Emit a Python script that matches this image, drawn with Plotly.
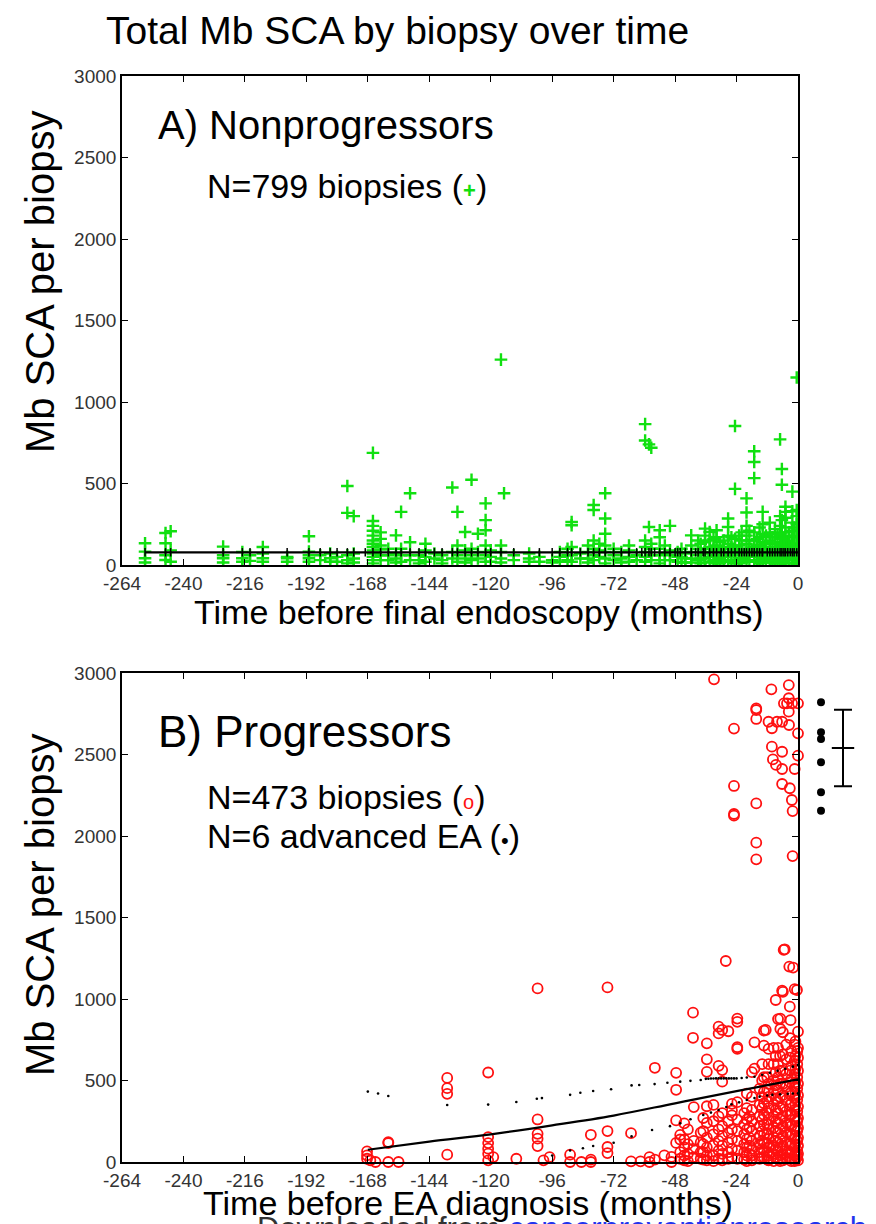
import plotly.graph_objects as go

# ---------------- data ----------------
month_ticks = [-264, -240, -216, -192, -168, -144, -120, -96, -72, -48, -24, 0]
month_tick_labels = ["-264", "-240", "-216", "-192", "-168", "-144", "-120",
                     "-96", "-72", "-48", "-24", "0"]
sca_ticks = [0, 500, 1000, 1500, 2000, 2500, 3000]
sca_tick_labels = ["0", "500", "1000", "1500", "2000", "2500", "3000"]

# Panel A: nonprogressors, biopsy months and Mb SCA values at each visit month
nonprog_visit_months = [
    -255, -247, -245, -224.5, -217, -214, -209, -199.5, -191, -186.6, -182.7, -180,
    -176, -173.5, -166, -163, -160, -157, -155, -151.5, -148, -145.5, -142, -139,
    -135, -133, -130, -127.5, -125, -122, -120, -116, -114.8, -111, -105, -101,
    -96, -93, -90, -88.4, -85, -82, -79.8, -77.6, -75.3, -72, -69, -66, -63,
    -59.7, -58.2, -57.3, -54, -50, -47, -44, -41.7, -39, -36.3, -34.5, -31.8,
    -29, -27.3, -24.6, -22, -20.1, -17.1, -15, -13.8, -11, -9, -7, -6.3, -4.9,
    -2.2, -0.5,
    -52, -45.5, -38, -33, -30.5, -26, -23, -19, -16, -12.5, -10, -8, -5.5, -3.5, -1.5,
]
nonprog_visit_sca = [
    [133, 82, 41, 15], [196, 133, 60, 31], [207, 90, 20], [113, 60, 41, 15],
    [80, 41, 20], [60, 25], [110, 70, 41, 20], [50, 41, 20], [176, 82, 60, 41, 20],
    [60, 30], [70, 41, 20], [50, 20],
    [485, 320, 60, 30, 10], [300, 70, 40, 15],
    [688, 270, 240, 210, 180, 150, 130, 110, 90, 70, 50, 30, 10],
    [200, 160, 120, 95, 60, 30], [100, 60, 30], [182, 70, 40, 15], [326, 100, 60, 20],
    [440, 140, 60, 30], [60, 30, 10], [130, 90, 50, 20], [70, 40], [60, 30, 10],
    [475, 80, 40], [326, 120, 60, 20], [202, 90, 40, 15], [523, 100, 60, 30],
    [192, 80, 40], [378, 275, 213, 120, 60, 20], [90, 50, 20], [1260, 120, 80, 40, 15],
    [440], [60, 30], [70, 40, 20], [50, 20],
    [30, 15], [80, 50, 20], [100, 60, 30], [264, 244, 110, 60, 20], [70, 40],
    [120, 80, 40, 15], [368, 337, 150, 100, 60, 30], [130, 90, 50],
    [440, 285, 192, 120, 80, 40, 10], [100, 60, 30], [80, 40, 15], [120, 90, 50, 20],
    [60, 30],
    [864, 764, 150, 110, 80, 50, 20], [740, 233], [719, 130, 100, 60, 30],
    [213, 170, 100, 60, 30, 10], [240, 90, 60, 30], [80, 50, 20], [70, 40, 15],
    [182, 120, 80, 40, 15], [150, 100, 60, 30], [223, 180, 140, 100, 70, 40, 15],
    [202, 150, 110, 80, 50, 20], [213, 170, 120, 90, 60, 30, 10],
    [150, 110, 80, 50, 20], [285, 233, 180, 130, 100, 60, 30],
    [853, 467, 160, 120, 90, 60, 30, 10], [200, 150, 100, 70, 40, 15],
    [409, 322, 240, 180, 130, 90, 60, 30], [698, 632, 533, 200, 150, 110, 80, 50, 20],
    [230, 170, 120, 90, 60, 30, 10], [326, 250, 190, 140, 100, 70, 40, 15],
    [260, 200, 150, 110, 80, 50, 20], [220, 170, 130, 90, 60, 30, 10],
    [771, 300, 240, 180, 140, 100, 70, 40, 15], [589, 492, 275, 200, 160, 120, 80, 50, 20],
    [357, 326, 290, 230, 180, 140, 100, 70, 40, 10],
    [450, 330, 260, 210, 170, 130, 90, 60, 30, 10],
    [1150, 337, 300, 250, 210, 170, 130, 100, 70, 40, 15],
    [120, 70, 30], [100, 50, 15], [130, 80, 40, 10], [160, 100, 60, 25],
    [140, 90, 40, 10], [170, 110, 70, 20], [180, 120, 80, 45, 10],
    [210, 150, 100, 60, 20], [160, 120, 70, 30], [180, 130, 90, 50, 15],
    [170, 110, 70, 30], [190, 130, 90, 45, 10], [160, 110, 60, 25],
    [200, 150, 110, 70, 30], [230, 180, 120, 80, 40, 10],
]
# Panel A fitted level (solid) and fitted marks at biopsy times
nonprog_fit_months = [-255, 0]
nonprog_fit_sca = [78, 78]
nonprog_mark_months = [
    -255, -247, -245, -224.5, -217, -214, -209, -199.5, -191, -186.6, -182.7, -180,
    -176, -173.5, -169, -166, -163, -160, -157, -155, -151.5, -148, -145.5, -142,
    -139, -135, -133, -130, -127.5, -125, -122, -120, -116, -111, -101, -96, -93,
    -90, -88.4, -85, -82, -79.8, -77.6, -75.3, -72, -69, -66, -63, -61, -59.7,
    -58.2, -57.3, -56, -54, -52, -50, -48, -47, -46, -44, -41.7, -40, -39, -37,
    -36.3, -34.5, -33, -31.8, -30, -29, -27.3, -26, -24.6, -23, -22, -21, -20.1,
    -19, -18, -17.1, -16, -15, -14, -13.8, -12, -11, -10, -9, -8, -7, -6.3, -5.5,
    -4.9, -4, -3, -2.2, -1.5, -0.5,
]
nonprog_mark_sca = [
    78, 78, 78, 78, 78, 78, 78, 78, 78, 78, 78, 78,
    78, 78, 78, 78, 78, 78, 78, 78, 78, 78, 78, 78,
    78, 78, 78, 78, 78, 78, 78, 78, 78, 78, 78, 78, 78,
    78, 78, 78, 78, 78, 78, 78, 78, 78, 78, 78, 78, 78,
    78, 78, 78, 78, 78, 78, 78, 78, 78, 78, 78, 78, 78, 78,
    78, 78, 78, 78, 78, 78, 78, 78, 78, 78, 78, 78, 78,
    78, 78, 78, 78, 78, 78, 78, 78, 78, 78, 78, 78, 78, 78, 78,
    78, 78, 78, 78, 78, 78,
]

# Panel B: progressors, biopsy months and Mb SCA values at each visit month
prog_visit_months = [
    -168.3, -167, -165, -160, -156, -137, -121, -119, -110, -101.7, -99.4, -97,
    -89, -84.6, -80.9, -74.4, -65.2, -61.5, -58, -55.9, -52.2, -49.4, -47.6, -46,
    -44.4, -41, -40.7, -38, -35.6, -32.8, -31, -29.6, -28.2, -27.2, -25.8, -25,
    -23.7, -21, -18, -17, -16.3, -15, -13.3, -12.6, -11.5, -10.4, -10.2, -9.8,
    -8.7, -8.6, -8.2, -7.8, -6.9, -6.2, -5.9, -5.6, -5.5, -5.2, -4.3, -3.6, -3.5,
    -3.4, -3.2, -3.1, -2.9, -2.4, -2.3, -2.1, -1.9, -1.3, -0.4, -0.3, 0,
    -43, -37, -33, -20, -19, -14, -12, -9.5, -7, -4.6, -2.6, -1,
]
prog_visit_sca = [
    [65, 41, 20], [10], [0], [122, 116, 0], [0], [516, 453, 418, 45],
    [549, 153, 116, 82, 51, 10], [30], [20], [1065, 261, 173, 143, 98], [10], [30],
    [45, 0], [0], [167, 15, 0], [1071, 190, 92, 55], [177, 4], [4], [30, 0],
    [578, 15], [41], [31, 0], [547, 443, 255, 117], [166, 138, 60, 20],
    [237, 138, 90, 40, 10], [916, 762, 80], [337, 130, 30], [180, 120, 60, 20],
    [728, 630, 553, 342, 240, 150, 90, 40, 10], [2961],
    [830, 789, 590, 280, 200, 130, 70, 20], [810, 564, 493, 300, 220, 160, 100, 50, 10],
    [1233], [802, 250, 180, 120, 60, 20], [357, 316, 286, 200, 140, 80, 30],
    [2659, 2307, 2135, 2125],
    [880, 860, 704, 694, 367, 260, 190, 130, 70, 20], [300, 230, 170, 110, 60, 15],
    [551, 400, 320, 250, 190, 130, 80, 40, 10], [734, 573],
    [2783, 2773, 2718, 2200, 1959, 1857], [450, 350, 280, 220, 160, 110, 60, 20],
    [806, 714, 520, 430, 360, 290, 230, 170, 120, 70, 30], [810],
    [2701, 694, 600, 480, 400, 330, 260, 200, 140, 90, 40, 10], [2900], [2661, 2548],
    [2470],
    [994, 650, 550, 470, 390, 320, 250, 190, 130, 80, 30], [2436], [2701],
    [877, 700, 600, 520, 440, 370, 300, 240, 180, 120, 70, 20], [880, 816],
    [2701, 2517, 2411, 2319, 1051],
    [1044, 796, 660, 560, 480, 410, 340, 280, 220, 160, 100, 50, 10], [1301], [2814],
    [1305], [2814], [2926, 2845, 2763], [2681],
    [1199], [2293, 953], [760, 640, 560, 490, 420, 350, 290, 230, 170, 110, 60, 20],
    [870], [2221], [2814], [2153, 1877], [1193],
    [2411, 1061, 720, 620, 540, 460, 390, 320, 260, 200, 140, 90, 40, 5], [1055],
    [680, 600, 520, 450, 380, 310, 250, 190, 130, 70, 30],
    [2814, 2630, 2493, 800, 700, 640, 560, 480, 410, 340, 270, 210, 150, 100, 50, 10],
    [200, 110, 50, 5], [270, 190, 110, 60, 15], [350, 250, 170, 100, 40, 5],
    [420, 330, 260, 200, 140, 90, 40, 5], [280, 210, 150, 100, 50],
    [600, 500, 400, 330, 260, 190, 130, 80, 30],
    [520, 440, 370, 300, 230, 170, 110, 60, 15],
    [700, 600, 500, 420, 350, 280, 210, 150, 100, 50, 5],
    [650, 560, 480, 400, 330, 260, 200, 140, 90, 40, 5],
    [720, 630, 540, 460, 380, 310, 240, 180, 120, 70, 25],
    [680, 590, 510, 430, 360, 290, 220, 160, 100, 50, 5],
    [740, 650, 570, 490, 420, 350, 280, 220, 160, 110, 60, 15],
]
# Panel B fitted curve and dotted confidence bounds
prog_fit_months = [-168, -144, -120, -96, -72, -48, -24, 0]
prog_fit_sca = [75, 125, 170, 225, 285, 360, 435, 507]
prog_upper_months = [-168, -164, -160, -137, -121, -110, -102, -100, -89, -85, -80,
                     -73, -65, -62, -56, -51, -46, -42, -38, -36, -35, -34, -33, -32,
                     -31, -30, -29, -28, -27, -26, -25, -24, -22, -20, -17, -14, -11,
                     -8, -5, -2, 0]
prog_upper_sca = [432, 420, 405, 350, 352, 368, 388, 392, 412, 425, 436,
                  446, 470, 472, 478, 486, 493, 498, 503, 510, 511, 512, 512, 513,
                  513, 513, 513, 513, 513, 513, 513, 513, 515, 518, 523, 535, 548,
                  560, 572, 585, 595]
prog_lower_months = [-96, -89, -84, -80, -72, -65, -57, -50, -46, -42, -37, -34, -31,
                     -28, -26, -23, -20, -17, -15, -12, -10, -7, -4, -2, 0]
prog_lower_sca = [40, 71, 84, 98, 118, 157, 196, 220, 237, 262, 288, 303, 319,
                  337, 354, 366, 380, 392, 401, 408, 412, 415, 418, 420, 421]

# Advanced EA (drawn to the right of the time axis)
ea_sca = [2820, 2636, 2595, 2452, 2268, 2155]
ea_mean = 2540
ea_sd = 235

# ---------------- build ----------------
OFF = 8  # default page body margin in the browser
W, H = 876 - OFF, 1224 - OFF
FONT = "Liberation Sans, Arial, Helvetica, sans-serif"
GREEN = "#10e010"
RED = "#ff1010"


def flatten(months, groups):
    xs, ys = [], []
    for m, vals in zip(months, groups):
        for v in vals:
            xs.append(m)
            ys.append(v)
    return xs, ys


np_x, np_y = flatten(nonprog_visit_months, nonprog_visit_sca)
pr_x, pr_y = flatten(prog_visit_months, prog_visit_sca)

# layout geometry in reference-image pixels
PX_LEFT, PX_RIGHT = 122, 798
A_TOP, A_BOT = 76, 565
B_TOP, B_BOT = 673, 1162


def fx(px):
    return (px - OFF) / W


def fy(py):
    return 1 - (py - OFF) / H


px_per_month = (PX_RIGHT - PX_LEFT) / 264.0
ext_range = (876 - PX_RIGHT) / px_per_month
ea_month_pos = 23 / px_per_month
ea_bar_pos = 45 / px_per_month

fig = go.Figure()

fig.add_trace(go.Scatter(
    x=np_x, y=np_y, mode="markers", xaxis="x", yaxis="y",
    marker=dict(symbol="cross-thin", size=9, color=GREEN, line=dict(width=2.4, color=GREEN)),
    showlegend=False, hoverinfo="skip"))
fig.add_trace(go.Scatter(
    x=nonprog_mark_months, y=nonprog_mark_sca, mode="markers", xaxis="x", yaxis="y",
    marker=dict(symbol="line-ns", size=6, color="black", line=dict(width=1.5, color="black")),
    showlegend=False, hoverinfo="skip"))
fig.add_trace(go.Scatter(
    x=nonprog_fit_months, y=nonprog_fit_sca, mode="lines", xaxis="x", yaxis="y",
    line=dict(color="black", width=2.2), showlegend=False, hoverinfo="skip"))

fig.add_trace(go.Scatter(
    x=pr_x, y=pr_y, mode="markers", xaxis="x2", yaxis="y2", cliponaxis=False,
    marker=dict(symbol="circle-open", size=10, color=RED, line=dict(width=1.8, color=RED)),
    showlegend=False, hoverinfo="skip"))
fig.add_trace(go.Scatter(
    x=prog_upper_months, y=prog_upper_sca, mode="markers", xaxis="x2", yaxis="y2",
    marker=dict(symbol="circle", size=2.6, color="black"), showlegend=False, hoverinfo="skip"))
fig.add_trace(go.Scatter(
    x=prog_lower_months, y=prog_lower_sca, mode="markers", xaxis="x2", yaxis="y2",
    marker=dict(symbol="circle", size=2.6, color="black"), showlegend=False, hoverinfo="skip"))
fig.add_trace(go.Scatter(
    x=prog_fit_months, y=prog_fit_sca, mode="lines", xaxis="x2", yaxis="y2",
    line=dict(color="black", width=2.2, shape="spline"), showlegend=False, hoverinfo="skip"))

fig.add_trace(go.Scatter(
    x=[ea_month_pos] * len(ea_sca), y=ea_sca, mode="markers", xaxis="x3", yaxis="y3",
    marker=dict(symbol="circle", size=8, color="black"), showlegend=False, hoverinfo="skip"))
fig.add_trace(go.Scatter(
    x=[ea_bar_pos], y=[ea_mean], mode="markers", xaxis="x3", yaxis="y3",
    marker=dict(symbol="line-ew", size=16, color="black", line=dict(width=2, color="black")),
    error_y=dict(type="data", array=[ea_sd], color="black", thickness=2, width=9),
    showlegend=False, hoverinfo="skip"))

axis_common = dict(
    showline=True, linecolor="black", linewidth=1.6, mirror="ticks",
    ticks="inside", ticklen=6, tickwidth=1.4, tickcolor="black",
    showgrid=False, zeroline=False, automargin=False,
    tickfont=dict(family=FONT, size=19, color="#333333"),
)

xdom = [fx(PX_LEFT), fx(PX_RIGHT)]
fig.update_layout(
    width=W, height=H,
    margin=dict(l=0, r=0, t=0, b=0),
    paper_bgcolor="white", plot_bgcolor="white",
    font=dict(family=FONT, color="black"),
    xaxis=dict(domain=xdom, range=[-264, 0], tickvals=month_ticks, ticktext=month_tick_labels,
               anchor="y", **axis_common),
    yaxis=dict(domain=[fy(A_BOT), fy(A_TOP)], range=[0, 3000], tickvals=sca_ticks,
               ticktext=sca_tick_labels, anchor="x", **axis_common),
    xaxis2=dict(domain=xdom, range=[-264, 0], tickvals=month_ticks, ticktext=month_tick_labels,
                anchor="y2", **axis_common),
    yaxis2=dict(domain=[fy(B_BOT), fy(B_TOP)], range=[0, 3000], tickvals=sca_ticks,
                ticktext=sca_tick_labels, anchor="x2", **axis_common),
    xaxis3=dict(domain=[fx(PX_RIGHT), 1.0], range=[0, ext_range], visible=False, anchor="y3"),
    yaxis3=dict(domain=[fy(B_BOT), fy(B_TOP)], range=[0, 3000], visible=False, anchor="x3"),
)


def text(s, px, py, size, xanchor="left", angle=0, color="black"):
    fig.add_annotation(
        text=s, x=fx(px), y=fy(py), xref="paper", yref="paper",
        xanchor=xanchor, yanchor="middle", showarrow=False, textangle=angle,
        font=dict(family=FONT, size=size, color=color))


text("Total Mb SCA by biopsy over time", 104, 31, 39)
text("A) Nonprogressors", 156, 125, 40)
text('N=799 biopsies (<span style="color:#10e010;font-size:22px"><b>+</b></span>)', 205, 186, 34)
text("Time before final endoscopy (months)", 478, 612, 34, xanchor="center")
text("Mb SCA per biopsy", 40, 282, 40, xanchor="center", angle=-90)

text("B) Progressors", 156, 731, 44)
text('N=473 biopsies (<span style="color:#ff1010;font-size:20px">o</span>)', 205, 797, 34)
text('N=6 advanced EA (<span style="font-size:22px">•</span>)', 205, 836, 34)
text("Mb SCA per biopsy", 40, 905, 40, xanchor="center", angle=-90)
text('Downloaded from <span style="color:#2233ee">cancerpreventionresearch.aacrjournals.org</span>',
     255, 1228, 31, color="#333333")
text("Time before EA diagnosis (months)", 468, 1203, 34, xanchor="center")

fig.write_html("out.html")
